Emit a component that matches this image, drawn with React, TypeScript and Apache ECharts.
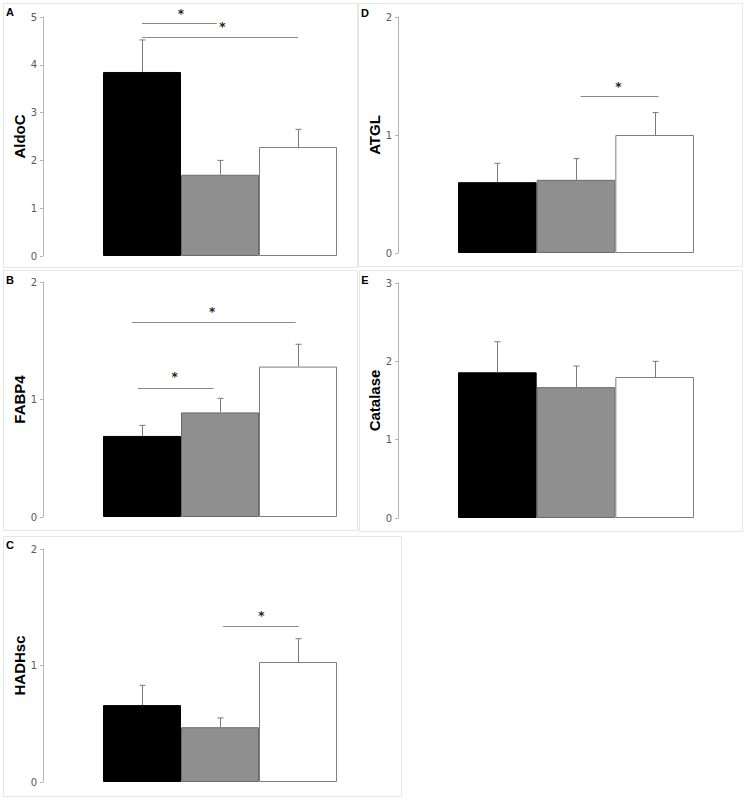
import React, { useEffect, useRef } from "react";
import * as echarts from "echarts";

const panelLetters = ["A", "B", "C", "D", "E"];
const geneNames = ["AldoC", "FABP4", "HADHsc", "ATGL", "Catalase"];
const axisMax = [5, 2, 2, 2, 3];
const groupNames = ["Group 1", "Group 2", "Group 3"];

const blackValues = [3.85, 0.69, 0.66, 0.6, 1.86];
const grayValues = [1.7, 0.89, 0.47, 0.62, 1.67];
const whiteValues = [2.28, 1.28, 1.03, 1.0, 1.8];
const blackErr = [0.67, 0.09, 0.17, 0.16, 0.39];
const grayErr = [0.3, 0.12, 0.08, 0.18, 0.27];
const whiteErr = [0.37, 0.19, 0.2, 0.19, 0.2];

// significance brackets: [from bar position, to bar position, level] (bar position 0.5 = centre of first bar)
const sigLines = [
  [[0.5, 1.46, 4.87], [0.5, 2.5, 4.58]],
  [[0.37, 2.47, 1.66], [0.45, 1.42, 1.1]],
  [[1.54, 2.51, 1.34]],
  [[1.56, 2.55, 1.33]],
  [],
];
// stars: [bar position, level]
const sigStars = [
  [[1.0, 5.13], [1.53, 4.86]],
  [[1.4, 1.77], [0.92, 1.22]],
  [[2.03, 1.45]],
  [[2.04, 1.43]],
  [],
];

const grids = [
  { left: 103, top: 17, width: 234, height: 239 },
  { left: 103, top: 282, width: 234, height: 235 },
  { left: 103, top: 549, width: 234, height: 233 },
  { left: 458, top: 17, width: 236, height: 236 },
  { left: 458, top: 283, width: 236, height: 235 },
];
const axisOffset = 60;
const boxes = [
  { x: 3.5, y: 3.5, width: 354, height: 264 },
  { x: 3.5, y: 270.5, width: 354, height: 260 },
  { x: 3.5, y: 536.5, width: 398, height: 260 },
  { x: 358.5, y: 3.5, width: 384, height: 263 },
  { x: 359.5, y: 270.5, width: 383, height: 261 },
];
const letterPos = [
  [10, 12],
  [10, 280],
  [10, 545],
  [365, 13],
  [365, 280],
];

const barStyles = [
  { color: "#000000", borderColor: "#000000", borderWidth: 1 },
  { color: "#8f8f8f", borderColor: "#6a6a6a", borderWidth: 1 },
  { color: "#ffffff", borderColor: "#7f7f7f", borderWidth: 1 },
];

export default function App() {
  const ref = useRef<HTMLDivElement>(null);
  useEffect(() => {
    if (!ref.current) return;
    const chart = echarts.init(ref.current, null, { renderer: "svg" });
    const valueSets = [blackValues, grayValues, whiteValues];
    const errSets = [blackErr, grayErr, whiteErr];

    const series: any[] = [];
    for (let p = 0; p < 5; p++) {
      series.push({
        type: "bar",
        xAxisIndex: p,
        yAxisIndex: p,
        barWidth: "100%",
        data: [0, 1, 2].map((g) => ({ value: valueSets[g][p], itemStyle: barStyles[g] })),
        silent: true,
      });
      series.push({
        type: "custom",
        xAxisIndex: p,
        yAxisIndex: p,
        encode: { x: 0, y: 1 },
        data: [0, 1, 2].map((g) => [g, valueSets[g][p], errSets[g][p]]),
        renderItem: (params: any, api: any) => {
          const g = api.value(0);
          const v = api.value(1);
          const e = api.value(2);
          const c = api.coord([g, v]);
          const t = api.coord([g, v + e]);
          const x = Math.round(c[0]) + 0.5;
          const st = { stroke: "#7a7a7a", lineWidth: 1 };
          return {
            type: "group",
            children: [
              { type: "line", shape: { x1: x, y1: c[1], x2: x, y2: t[1] }, style: st },
              { type: "line", shape: { x1: x - 3, y1: t[1], x2: x + 3, y2: t[1] }, style: st },
            ],
          };
        },
        silent: true,
        z: 3,
      });
      if (sigLines[p].length) {
        series.push({
          type: "custom",
          xAxisIndex: p,
          yAxisIndex: p,
          encode: { x: 0, y: 1 },
          data: sigLines[p].map((s) => [0, s[2], s[0], s[1]]),
          renderItem: (params: any, api: any) => {
            const c = api.coord([0, api.value(1)]);
            const band = api.size([1, 0])[0];
            const left = c[0] - band / 2;
            const x1 = left + api.value(2) * band;
            const x2 = left + api.value(3) * band;
            const y = Math.round(c[1]) + 0.5;
            return {
              type: "line",
              shape: { x1, y1: y, x2, y2: y },
              style: { stroke: "#8a8a8a", lineWidth: 1.2 },
            };
          },
          silent: true,
          z: 3,
        });
        series.push({
          type: "custom",
          xAxisIndex: p,
          yAxisIndex: p,
          encode: { x: 0, y: 1 },
          data: sigStars[p].map((s) => [0, s[1], s[0]]),
          renderItem: (params: any, api: any) => {
            const c = api.coord([0, api.value(1)]);
            const band = api.size([1, 0])[0];
            const x = c[0] - band / 2 + api.value(2) * band;
            return {
              type: "text",
              style: {
                x,
                y: c[1] + 3,
                text: "*",
                fill: "#222222",
                font: "bold 12px 'DejaVu Sans'",
                align: "center",
                verticalAlign: "middle",
              },
            };
          },
          silent: true,
          z: 3,
        });
      }
    }

    const graphic: any[] = [];
    boxes.forEach((b) => {
      graphic.push({
        type: "rect",
        shape: b,
        style: { fill: "none", stroke: "#e6e6e6", lineWidth: 1 },
        silent: true,
        z: -1,
      });
    });
    letterPos.forEach((lp, i) => {
      graphic.push({
        type: "text",
        x: lp[0],
        y: lp[1],
        style: {
          text: panelLetters[i],
          fill: "#000000",
          font: "bold 11px 'Liberation Sans', Arial",
          align: "center",
          verticalAlign: "middle",
        },
        silent: true,
      });
    });

    chart.setOption({
      animation: false,
      backgroundColor: "#ffffff",
      graphic,
      grid: grids,
      xAxis: grids.map((_, i) => ({
        type: "category",
        gridIndex: i,
        data: groupNames,
        axisLine: { show: false },
        axisTick: { show: false },
        axisLabel: { show: false },
        splitLine: { show: false },
      })),
      yAxis: grids.map((_, i) => ({
        type: "value",
        gridIndex: i,
        offset: axisOffset,
        min: 0,
        max: axisMax[i],
        interval: 1,
        name: geneNames[i],
        nameLocation: "middle",
        nameGap: 14,
        nameRotate: 90,
        nameTextStyle: {
          fontFamily: "'Liberation Sans', Arial",
          fontWeight: "bold",
          fontSize: 15,
          color: "#000000",
        },
        axisLine: { show: true, lineStyle: { color: "#b5b5b5", width: 1 } },
        axisTick: { show: true, length: 3, lineStyle: { color: "#b5b5b5" } },
        axisLabel: {
          margin: 6,
          fontFamily: "'DejaVu Sans'",
          fontSize: 10,
          color: "#5a5a5a",
        },
        splitLine: { show: false },
      })),
      series,
    });
    return () => chart.dispose();
  }, []);
  return (
    <div
      ref={ref}
      style={{ position: "absolute", left: 0, top: 0, width: 744, height: 800 }}
    />
  );
}
